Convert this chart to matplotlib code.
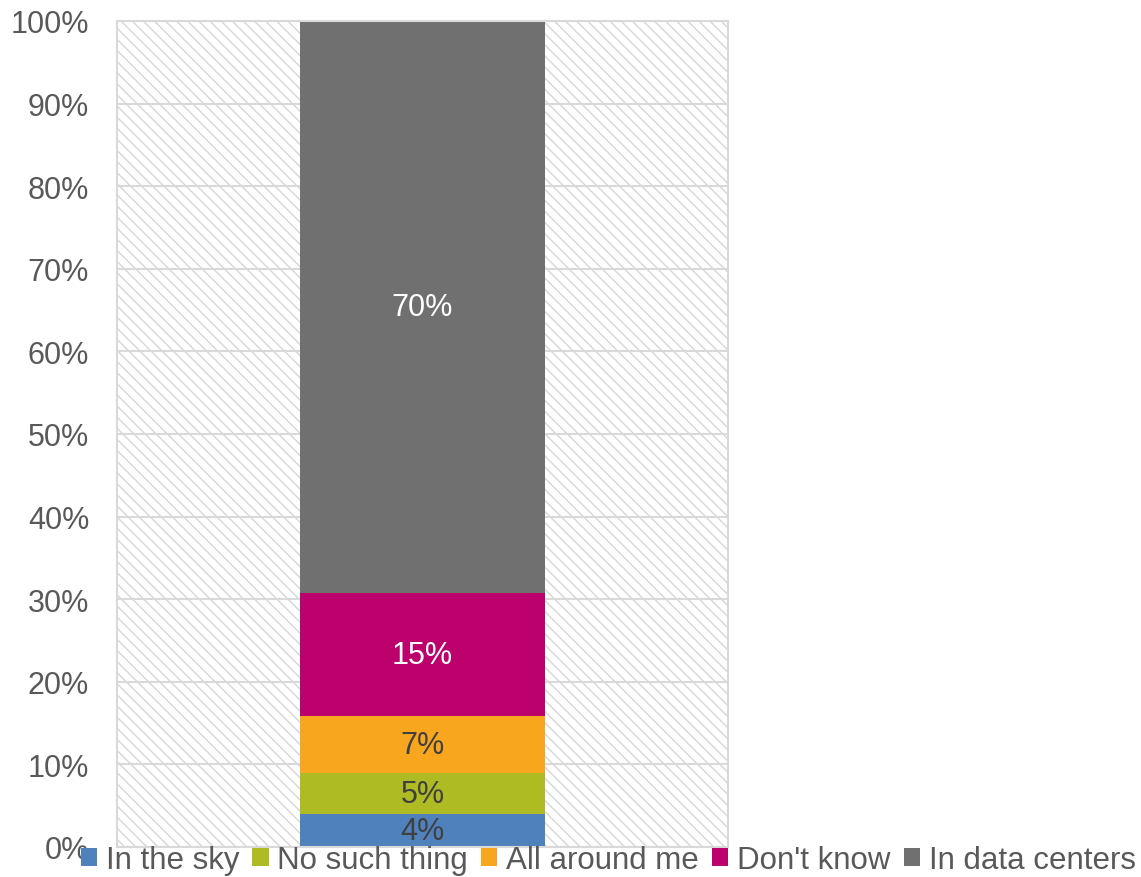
import matplotlib.pyplot as plt
import matplotlib.patches as mpatches
from matplotlib.ticker import PercentFormatter

plt.rcParams['font.family'] = ['Liberation Sans', 'DejaVu Sans']
plt.rcParams['hatch.linewidth'] = 1.0

categories = ['In the sky', 'No such thing', 'All around me', "Don't know", 'In data centers']
values = [4, 5, 7, 15, 70]
colors = ['#4f81bd', '#afbb22', '#f9a61f', '#bc006c', '#707070']
label_colors = ['#404040', '#404040', '#404040', 'white', 'white']

total = sum(values)
shares = [v / total * 100 for v in values]

fig = plt.figure(figsize=(11.41, 8.78), dpi=100)
ax = fig.add_axes([0.1025, 0.0342, 0.5355, 0.9408])

# hatched plot area background
bg = mpatches.Rectangle((0, 0), 1, 1, transform=ax.transAxes, facecolor='white',
                        edgecolor='#d6d6d6', linewidth=0, hatch='\\\\\\', zorder=0)
ax.add_patch(bg)

ax.set_ylim(0, 100)
ax.set_xlim(-0.5, 0.5)
ax.yaxis.set_major_locator(plt.MultipleLocator(10))
ax.yaxis.set_major_formatter(PercentFormatter(decimals=0))
ax.grid(axis='y', color='#d9d9d9', linewidth=1.5, zorder=1)
ax.set_axisbelow(True)
ax.set_xticks([])
ax.tick_params(axis='y', length=0, labelsize=22, labelcolor='#595959', pad=20)
for s in ax.spines.values():
    s.set_color('#d9d9d9')
    s.set_linewidth(1.5)

bottom = 0
handles = []
for cat, sh, v, c, lc in zip(categories, shares, values, colors, label_colors):
    b = ax.bar(0, sh, width=0.4, bottom=bottom, color=c, label=cat, zorder=2)
    ax.text(0, bottom + sh / 2, f'{v}%', ha='center', va='center',
            fontsize=22, color=lc, zorder=3)
    bottom += sh
    handles.append(b)

fig.legend(handles=handles, labels=categories, loc='center',
           bbox_to_anchor=(0.533, 0.0195), ncol=5, frameon=False,
           fontsize=22.5, labelcolor='#595959', handlelength=0.52, handleheight=0.52,
           handletextpad=0.28, columnspacing=0.42, borderpad=0)

fig.savefig('out.png', dpi=100)
